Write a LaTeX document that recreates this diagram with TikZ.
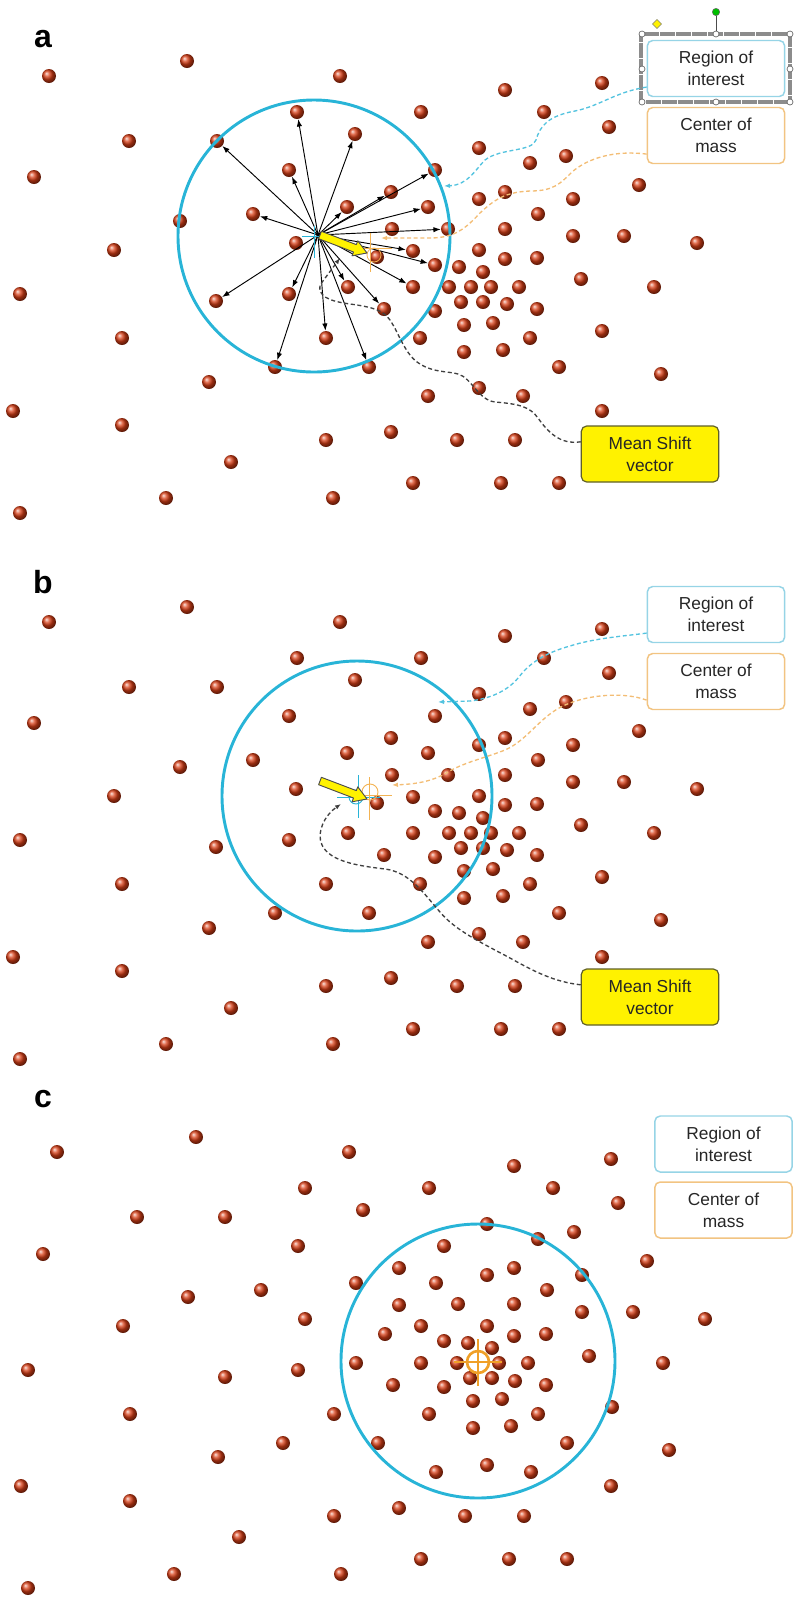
\documentclass[tikz,border=0pt]{standalone}
\usepackage{fontspec}
\setmainfont{Liberation Sans}
\usetikzlibrary{arrows.meta,shapes.geometric}

\definecolor{roicyan}{RGB}{40,180,215}
\definecolor{roiedge}{RGB}{150,212,230}
\definecolor{comedge}{RGB}{242,196,130}
\definecolor{comorange}{RGB}{240,160,40}
\definecolor{dotred}{RGB}{215,62,22}
\definecolor{msedge}{RGB}{95,95,40}

% particles of panels a and b (b is a shifted by 546)
\newcommand{\hitpts}{297/112, 355/134, 217/141, 289/170, 253/214, 347/207, 391/192, 428/207, 435/170, 448/229, 413/251, 435/265, 413/287, 384/309, 348/287, 326/338, 369/367, 275/367, 289/294, 216/301}
\newcommand{\restpts}{49/76, 187/61, 340/76, 129/141, 34/177, 180/221, 114/250, 392/229, 296/243, 377/257, 505/90, 602/83, 421/112, 544/112, 609/127, 479/148, 530/163, 566/156, 639/185, 505/192, 479/199, 573/199, 538/214, 505/229, 573/236, 624/236, 697/243, 479/250, 505/259, 537/258, 459/267, 483/272, 581/279, 654/287, 449/287, 471/287, 491/287, 519/287, 435/311, 461/302, 483/302, 507/304, 537/309, 420/338, 464/325, 493/323, 530/338, 602/331, 464/352, 503/350, 559/367, 661/374, 428/396, 479/388, 523/396, 602/411, 457/440, 515/440, 413/483, 501/483, 559/483, 20/294, 122/338, 209/382, 13/411, 122/425, 326/440, 391/432, 231/462, 166/498, 333/498, 20/513}
% particles of panel c
\newcommand{\clusterpts}{57/1152, 196/1137, 349/1152, 305/1188, 363/1210, 137/1217, 225/1217, 43/1254, 298/1246, 399/1268, 356/1283, 188/1297, 261/1290, 399/1305, 305/1319, 123/1326, 385/1334, 28/1370, 225/1377, 298/1370, 356/1363, 393/1385, 130/1414, 334/1414, 283/1443, 378/1443, 218/1457, 21/1486, 130/1501, 334/1516, 399/1508, 239/1537, 174/1574, 341/1574, 28/1588, 514/1166, 611/1159, 429/1188, 553/1188, 618/1203, 487/1224, 574/1232, 538/1239, 444/1246, 647/1261, 487/1275, 514/1268, 582/1275, 436/1283, 547/1290, 458/1304, 514/1304, 582/1312, 633/1312, 705/1319, 421/1326, 487/1326, 514/1336, 546/1334, 444/1341, 468/1343, 492/1348, 421/1363, 457/1363, 499/1363, 528/1363, 589/1356, 663/1363, 444/1387, 470/1378, 492/1378, 515/1381, 546/1385, 473/1401, 502/1399, 429/1414, 538/1414, 612/1407, 473/1428, 511/1426, 567/1443, 669/1450, 436/1472, 487/1465, 531/1472, 611/1486, 465/1516, 524/1516, 421/1559, 509/1559, 567/1559}

\tikzset{%
    particle/.style={
      circle,
      inner sep=0pt,
      minimum size=10.5pt,
      shading=ball,
      ball color=dotred
    },
    legend/.style={
      rectangle,
      rounded corners=4pt,
      draw,
      line width=1.1pt,
      fill=white,
      minimum width=103pt,
      minimum height=42pt,
      align=center,
      text=black!85,
      font=\fontsize{13}{16.5}\selectfont
    },
    roi box/.style={legend, draw=roiedge},
    com box/.style={legend, draw=comedge},
    ms box/.style={legend, draw=msedge, fill=yellow, line width=0.9pt},
    window/.style={draw=roicyan, line width=2.2pt},
    ray/.style={-{Latex[length=5.5pt,width=4pt]}, black, line width=0.7pt},
    link/.style={-{Latex[length=4.5pt,width=3.5pt]}, line width=1pt, dash pattern=on 3pt off 2pt},
    shift arrow/.style={fill=yellow, draw=black!70, line width=0.7pt, line join=round},
    handle/.style={circle, draw=black!60, fill=white, inner sep=0pt, minimum size=4.5pt, line width=0.5pt},
    panel/.style={anchor=base, font=\fontsize{24}{24}\selectfont\bfseries}
  }

\begin{document}
\begin{tikzpicture}[x=0.75pt, y=-0.75pt]
  \useasboundingbox (0,0) rectangle (795,1597);

  % panel labels
  \node [panel] (lba) at (43,47) {a};
  \node [panel] (lbb) at (43,593) {b};
  \node [panel] (lbc) at (43,1107) {c};

  % particles
  \foreach \x/\y [count=\i] in \hitpts {
    \node [particle] (ta\i) at (\x,\y) {};
    \node [particle] (tb\i) at (\x,\y+546) {};
  }
  \foreach \x/\y [count=\i] in \restpts {
    \node [particle] (pa\i) at (\x,\y) {};
    \node [particle] (pb\i) at (\x,\y+546) {};
  }
  \foreach \x/\y [count=\i] in \clusterpts
    \node [particle] (pc\i) at (\x,\y) {};

  % regions of interest
  \draw [window] (314,236) circle [radius=136];
  \draw [window] (357,796) circle [radius=135];
  \draw [window] (478,1361) circle [radius=137];

  % panel a: vectors to every point in the window
  \coordinate (ca) at (318,235);
  \foreach \i in {1,...,20}
    \draw [ray] (ca) -- (ta\i);

  % crosshairs
  \draw [roicyan, line width=0.6pt] (314,226) -- (314,258) (302,236) -- (326,236);
  \draw [comorange!80, line width=0.6pt] (370,233) -- (370,272) (356,248) -- (392,248);
  \draw [comorange!80, line width=0.6pt] (374,255) circle [radius=7];
  \draw [roicyan, line width=0.7pt] (358,775) -- (358,818) (337,797) -- (380,797);
  \draw [roicyan, line width=0.7pt] (356,797) circle [radius=7];
  \draw [comorange!80, line width=0.7pt] (369,777) -- (369,820) (360,795) -- (392,795);
  \draw [comorange!80, line width=0.7pt] (370,792) circle [radius=8];
  \draw [comorange, line width=2pt] (478,1339) -- (478,1386) (454,1362) -- (502,1362);
  \draw [comorange, line width=2pt] (478,1362) circle [radius=11];

  % mean shift vectors
  \foreach \dy in {0,546}
    \draw [shift arrow] (321.4,231.3+\dy) -- (356.3,244.6+\dy) -- (357.8,240.8+\dy)
      -- (367,253+\dy) -- (352.0,255.8+\dy) -- (353.5,252.0+\dy) -- (318.6,238.7+\dy) -- cycle;

  % legends
  \node [roi box] (roia) at (716,68.5) {Region of\\interest};
  \node [com box] (coma) at (716,135.5) {Center of\\mass};
  \node [ms box] (msa) at (650,454) {Mean Shift\\vector};
  \node [roi box] (roib) at (716,614.5) {Region of\\interest};
  \node [com box] (comb) at (716,681.5) {Center of\\mass};
  \node [ms box] (msb) at (650,997) {Mean Shift\\vector};
  \node [roi box] (roic) at (723.5,1144) {Region of\\interest};
  \node [com box] (comc) at (723.5,1210) {Center of\\mass};

  % selection frame round the first legend
  \draw [black!45, line width=2.6pt, dash pattern=on 0.4pt off 0.4pt] (641,34) rectangle (790,102);
  \foreach \x/\y [count=\i] in {642/34, 716/34, 790/34, 642/69, 790/69, 642/102, 716/102, 790/102}
    \node [handle] (h\i) at (\x,\y) {};
  \node [circle, draw=black!60, fill=green!75!black, inner sep=0pt, minimum size=5.5pt] (rot) at (716,12) {};
  \draw [black!70, line width=0.6pt] (rot) -- (h2);
  \node [diamond, draw=black!50, fill=yellow, inner sep=0pt, minimum size=7pt] (adj) at (657,24) {};

  % connectors, panel a
  \coordinate (ra) at (444,186);
  \coordinate (cma) at (381,238);
  \coordinate (mta) at (340,258);
  \draw [link, roicyan!80] (roia.195) .. controls (615,92) and (600,106) .. (575,111)
    .. controls (548,116) and (540,126) .. (536,140)
    .. controls (532,152) and (500,148) .. (485,160)
    .. controls (475,170) and (468,185) .. (ra);
  \draw [link, comedge!90!orange] (coma.195) .. controls (615,150) and (588,158) .. (572,172)
    .. controls (560,184) and (553,191) .. (530,191)
    .. controls (505,192) and (494,200) .. (480,213)
    .. controls (466,228) and (455,238) .. (430,238) -- (cma);
  \draw [link, black!75] (msa.170) .. controls (560,445) and (548,432) .. (538,418)
    .. controls (530,407) and (520,404) .. (495,402)
    .. controls (478,400) and (472,378) .. (458,374)
    .. controls (448,371) and (435,373) .. (420,364)
    .. controls (405,355) and (400,335) .. (390,320)
    .. controls (383,310) and (372,307) .. (350,304)
    .. controls (328,301) and (318,296) .. (320,285) -- (mta);

  % connectors, panel b
  \coordinate (rb) at (438,702);
  \coordinate (cmb) at (392,785);
  \coordinate (mtb) at (341,804);
  \draw [link, roicyan!80] (roib.195) .. controls (625,636) and (595,638) .. (570,646)
    .. controls (548,652) and (530,662) .. (519,677)
    .. controls (510,688) and (495,698) .. (470,701) -- (rb);
  \draw [link, comedge!90!orange] (comb.195) .. controls (625,692) and (590,694) .. (565,705)
    .. controls (540,716) and (528,740) .. (505,750)
    .. controls (485,758) and (465,762) .. (448,772)
    .. controls (435,780) and (420,784) .. (cmb);
  \draw [link, black!75] (msb.170) .. controls (555,982) and (535,972) .. (510,958)
    .. controls (480,942) and (455,930) .. (440,912)
    .. controls (425,895) and (410,872) .. (385,869)
    .. controls (360,866) and (330,862) .. (322,845)
    .. controls (316,832) and (325,815) .. (mtb);
\end{tikzpicture}
\end{document}
